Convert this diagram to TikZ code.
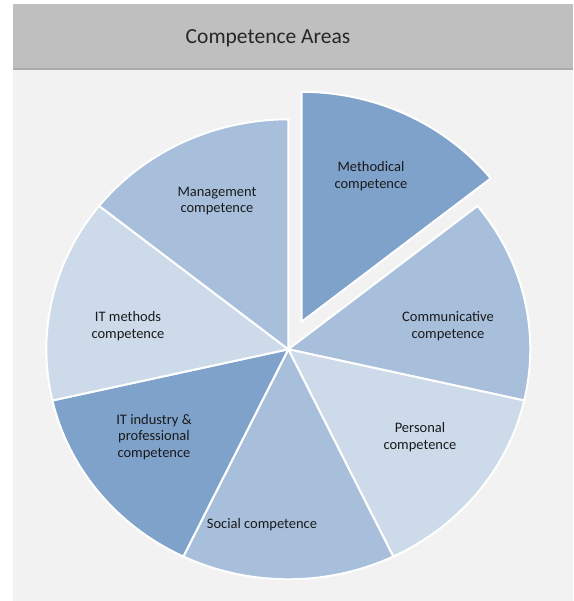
\documentclass[tikz,border=0pt]{standalone}
\usepackage{fontspec}
\setmainfont{Carlito}
\usetikzlibrary{calc}

\definecolor{darkslice}{HTML}{7FA2CB}
\definecolor{midslice}{HTML}{A8BFDC}
\definecolor{lightslice}{HTML}{CCDAEA}
\definecolor{panelgray}{HTML}{F2F2F2}
\definecolor{headgray}{HTML}{BFBFBF}
\definecolor{shadegray}{HTML}{ABABAB}
\definecolor{labeltext}{HTML}{1A1A1A}

\newcommand{\pieslice}[4]{%
 \path [draw=white,line width=2pt,line join=round,fill={#4}] ({#1}) -- ++({#2}:242 and 230)%
   arc [start angle={#2},end angle={#3},x radius=242,y radius=230] -- cycle;%
}

\tikzset{
  arealabel/.style={align=center,text=labeltext,inner sep=0pt,font=\fontsize{14.5}{16.5}\selectfont},
  headlabel/.style={text=black!85,font=\fontsize{21.5}{24}\selectfont}
}

\begin{document}
\begin{tikzpicture}[x=1pt,y=1pt]
  \useasboundingbox (0,0) rectangle (573,601);
  % panel and header
  \fill [panelgray] (12.7,0) rectangle (573,532);
  \fill [shadegray] (12.7,530.5) rectangle (573,533);
  \fill [headgray] (12.7,533) rectangle (573,597);
  \node [headlabel] (title) at (268,563) {Competence Areas};

  % pie
  \coordinate (C) at (288.3,251.7);
  \coordinate (Cx) at ($(C)+(64.29:30.5)$);
  \pieslice{C}{38.57}{-12.86}{midslice}
  \pieslice{C}{-12.86}{-64.29}{lightslice}
  \pieslice{C}{-64.29}{-115.71}{midslice}
  \pieslice{C}{-115.71}{-167.14}{darkslice}
  \pieslice{C}{-167.14}{-218.57}{lightslice}
  \pieslice{C}{141.43}{90}{midslice}
  \pieslice{Cx}{90}{38.57}{darkslice}

  \node [arealabel] (meth) at (371,425) {Methodical\\competence};
  \node [arealabel] (comm) at (448,275) {Communicative\\competence};
  \node [arealabel] (pers) at (420,164) {Personal\\competence};
  \node [arealabel] (soc) at (262,76) {Social competence};
  \node [arealabel] (itind) at (154,164) {IT industry \&\\professional\\competence};
  \node [arealabel] (itmeth) at (128,275) {IT methods\\competence};
  \node [arealabel] (mgmt) at (217,400) {Management\\competence};
\end{tikzpicture}
\end{document}
